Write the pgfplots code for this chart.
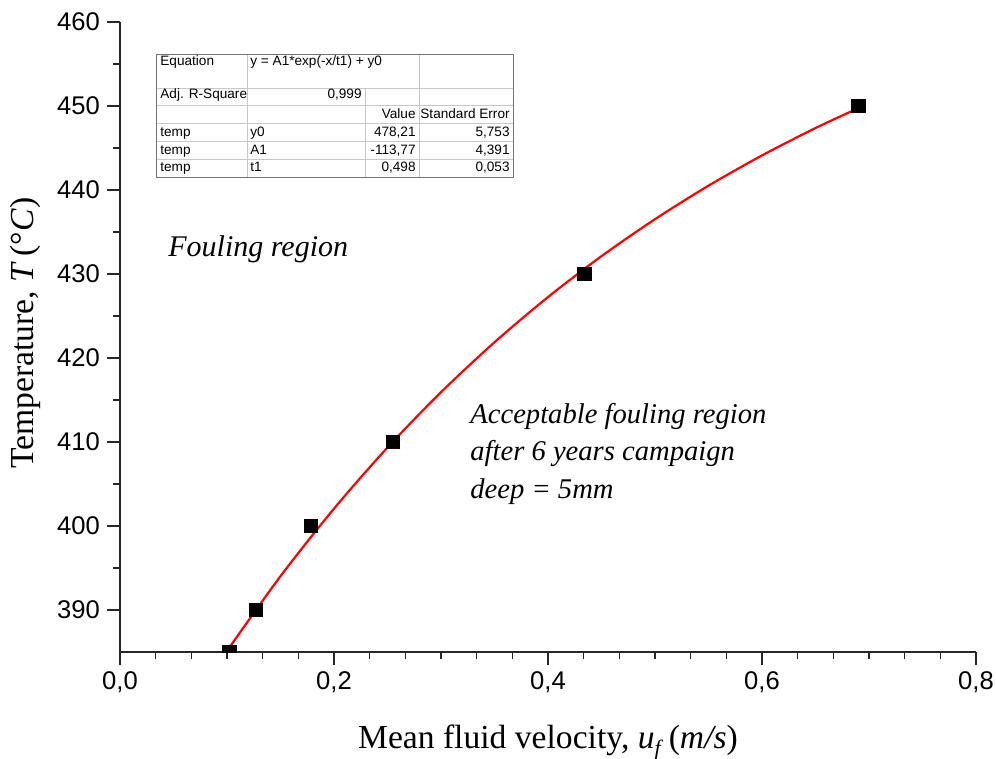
\documentclass[border=0pt]{standalone}
\usepackage{fontspec}
\setmainfont{Liberation Serif}
\newfontfamily\arial{Liberation Sans}
\usepackage{pgfplots}
\pgfplotsset{compat=1.18}
\begin{document}
\begin{tikzpicture}
\begin{axis}[
  scale only axis, width=428pt, height=315pt,
  xmin=0, xmax=0.8, ymin=385, ymax=460,
  axis x line*=bottom, axis y line*=left,
  axis line style={-, black!85, line width=0.6pt},
  xtick={0,0.2,0.4,0.6,0.8}, minor x tick num=5,
  ytick={390,400,410,420,430,440,450,460}, minor y tick num=1,
  tick align=outside, major tick length=6.5pt, minor tick length=3.5pt,
  tick style={black!85, line width=0.6pt},
  xticklabel style={/pgf/number format/.cd, use comma, fixed, fixed zerofill, precision=1},
  yticklabel style={/pgf/number format/.cd, fixed, precision=0},
  /pgf/number format/assume math mode=true,
  ticklabel style={font=\arial\fontsize{12.8}{14}\selectfont},
  xlabel={Mean fluid velocity, \textit{u}\raisebox{-0.5ex}{\fontsize{11}{12}\selectfont\textit{f}}\,(\textit{m/s})},
  ylabel={Temperature, \textit{T}\,(°\textit{C})},
  label style={font=\fontsize{16.8}{18}\selectfont},
  xlabel style={at={([yshift=-48pt]axis description cs:0.5,0)}, anchor=base},
  ylabel style={at={([xshift=-47.5pt]axis description cs:0,0.506)}, anchor=center},
  clip marker paths=true,
]
\addplot[red, line width=1.1pt, smooth, no markers] coordinates {
(0.100,385.13) (0.150,394.02) (0.200,402.06) (0.250,409.34) (0.300,415.92)
(0.350,421.87) (0.400,427.25) (0.450,432.12) (0.500,436.52) (0.550,440.51)
(0.600,444.11) (0.650,447.37) (0.690,449.74)};
\addplot[only marks, mark=square*, mark size=3.4pt, black] coordinates {
(0.102,385) (0.127,390) (0.1785,400) (0.255,410) (0.434,430) (0.690,450)};
\end{axis}
\begin{scope}[shift={(current axis.north west)}, x=0.5pt, y=-0.5pt]
  \fill[white] (36,32) rectangle (393,155);
  \draw[black!22, line width=0.4pt] (36,66) -- (393,66) (36,83.8) -- (393,83.8)
     (36,101.6) -- (393,101.6) (36,119.4) -- (393,119.4) (36,137.2) -- (393,137.2)
     (127,32) -- (127,155) (245,66) -- (245,155) (299,32) -- (299,155);
  \draw[black!55, line width=0.4pt] (36,32) rectangle (393,155);
  \begin{scope}[every node/.style={font=\arial\fontsize{6.8}{8}\selectfont, inner sep=0pt}]
    \node[anchor=base west] at (40,44) {Equation};
    \node[anchor=base west] at (130,44) {y = A1*exp(-x/t1) + y0};
    \node[anchor=base west] at (40,77) {Adj. R-Square};
    \node[anchor=base east] at (242,77) {0,999};
    \node[anchor=base east] at (296,97) {Value};
    \node[anchor=base east] at (390,97) {Standard Error};
    \node[anchor=base west] at (40,115) {temp};
    \node[anchor=base west] at (130,115) {y0};
    \node[anchor=base east] at (296,115) {478,21};
    \node[anchor=base east] at (390,115) {5,753};
    \node[anchor=base west] at (40,132.5) {temp};
    \node[anchor=base west] at (130,132.5) {A1};
    \node[anchor=base east] at (296,132.5) {-113,77};
    \node[anchor=base east] at (390,132.5) {4,391};
    \node[anchor=base west] at (40,150) {temp};
    \node[anchor=base west] at (130,150) {t1};
    \node[anchor=base east] at (296,150) {0,498};
    \node[anchor=base east] at (390,150) {0,053};
  \end{scope}
  \begin{scope}[every node/.style={inner sep=0pt, anchor=base west}]
    \node[font=\itshape\fontsize{15}{17}\selectfont] at (48,235) {Fouling region};
    \node[font=\itshape\fontsize{14.3}{16}\selectfont] at (350,401) {Acceptable fouling region};
    \node[font=\itshape\fontsize{14.3}{16}\selectfont] at (350,438.5) {after 6 years campaign};
    \node[font=\itshape\fontsize{14.3}{16}\selectfont] at (350,476) {deep = 5mm};
  \end{scope}
\end{scope}
\pgfresetboundingbox
\path[use as bounding box] ([shift={(-60pt,-53pt)}]current axis.south west) rectangle ([shift={(10pt,11pt)}]current axis.north east);
\end{tikzpicture}
\end{document}
